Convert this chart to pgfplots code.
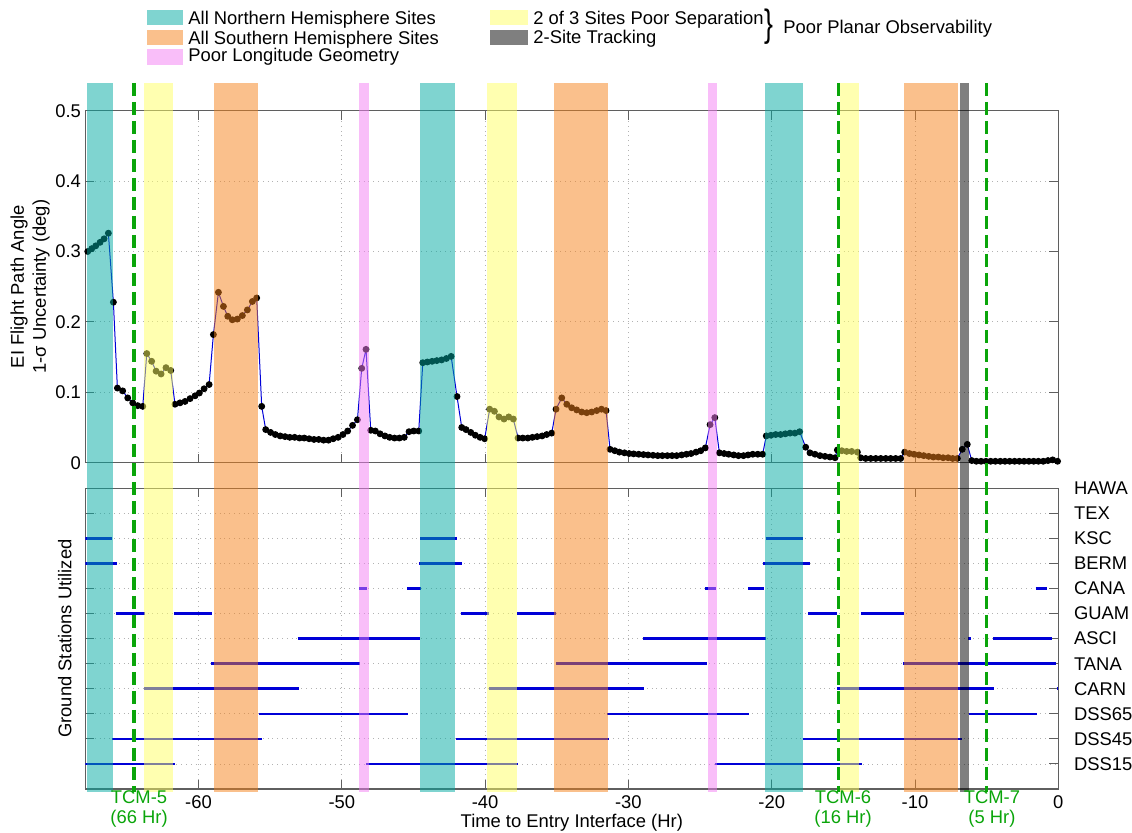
\documentclass[border=0pt]{standalone}
\usepackage{pgfplots}
\pgfplotsset{compat=1.18}
\usepackage{fontspec}
\setmainfont{Liberation Sans}
\definecolor{bcyan}{RGB}{0,169,161}
\definecolor{byellow}{RGB}{255,255,97}
\definecolor{borange}{RGB}{245,129,25}
\definecolor{bpink}{RGB}{243,125,243}
\definecolor{tcmgreen}{RGB}{10,165,10}
\definecolor{stblue}{RGB}{0,0,215}
\definecolor{axgray}{RGB}{95,95,95}
\begin{document}
\begin{tikzpicture}[x=1pt,y=1pt,font=\fontsize{9.2}{11}\selectfont]
\useasboundingbox (0,0) rectangle (566,416.5);
\pgfplotsset{
  every axis/.append style={font=\fontsize{9.2}{11}\selectfont},
  base/.style={anchor=south west, scale only axis, width=486.5pt,
    xmin=-67.9, xmax=0, tick align=inside, major tick length=4.5pt,
    grid=major, major grid style={dotted, black!30, line width=0.4pt},
    axis line style={axgray, line width=0.6pt}, every tick/.style={axgray, line width=0.5pt}},
  band/.style={draw=none, fill opacity=0.5},
  st/.style={stblue, line width=1.3pt, solid, mark=none},
}
% ---------------- upper axis ----------------
\begin{axis}[base, at={(42.65pt,185.15pt)}, height=176pt,
  ymin=0, ymax=0.5,
  xtick={-60,-50,-40,-30,-20,-10}, xticklabels={},
  ytick={0,0.1,0.2,0.3,0.4,0.5},
  yticklabel style={/pgf/number format/assume math mode=true, xshift=1.35pt},
  ylabel={EI Flight Path Angle\\1-σ Uncertainty (deg)},
  ylabel style={align=center, inner sep=0pt, at={(axis description cs:-0.0363,0.5)}, anchor=south},
  clip=false]
\addplot[stblue, line width=0.5pt, mark=*, mark size=1.45pt, mark options={black, fill=black}] coordinates {
(-67.73,0.300) (-67.45,0.304) (-67.17,0.308) (-66.87,0.313) (-66.59,0.318) (-66.29,0.326)
(-65.94,0.228) (-65.66,0.106) (-65.29,0.102) (-64.94,0.092) (-64.59,0.085) (-64.24,0.081) (-63.89,0.080)
(-63.61,0.155) (-63.27,0.144) (-62.96,0.130) (-62.61,0.126) (-62.27,0.135) (-61.94,0.131)
(-61.64,0.083) (-61.29,0.085) (-60.94,0.087) (-60.59,0.091) (-60.24,0.095) (-59.94,0.099) (-59.61,0.105) (-59.26,0.111)
(-58.96,0.182) (-58.61,0.242) (-58.26,0.222) (-57.96,0.208) (-57.64,0.203) (-57.29,0.204) (-56.94,0.209) (-56.59,0.217) (-56.24,0.229) (-55.94,0.234)
(-55.59,0.080) (-55.31,0.047) (-54.97,0.043) (-54.64,0.040) (-54.30,0.038) (-53.96,0.037) (-53.63,0.036) (-53.29,0.036)
(-52.95,0.035) (-52.62,0.035) (-52.28,0.034) (-51.94,0.033) (-51.61,0.033) (-51.27,0.032) (-50.93,0.032) (-50.60,0.034)
(-50.26,0.036) (-49.92,0.040) (-49.59,0.045) (-49.25,0.053) (-48.91,0.061)
(-48.61,0.134) (-48.31,0.161)
(-47.98,0.046) (-47.66,0.045) (-47.33,0.041) (-46.99,0.038) (-46.66,0.036) (-46.32,0.035) (-45.98,0.035) (-45.64,0.036)
(-45.31,0.044) (-44.98,0.045) (-44.63,0.045)
(-44.35,0.142) (-44.03,0.143) (-43.70,0.144) (-43.37,0.145) (-43.03,0.146) (-42.70,0.148) (-42.37,0.151)
(-41.96,0.094) (-41.63,0.050) (-41.33,0.047) (-41.00,0.043) (-40.68,0.039) (-40.35,0.036) (-40.03,0.034)
(-39.68,0.076) (-39.35,0.073) (-39.03,0.065) (-38.68,0.062) (-38.35,0.065) (-38.03,0.062)
(-37.70,0.035) (-37.37,0.035) (-37.02,0.035) (-36.70,0.036) (-36.37,0.037) (-36.02,0.038) (-35.70,0.040) (-35.35,0.042)
(-35.05,0.076) (-34.65,0.092) (-34.30,0.083) (-33.96,0.078) (-33.61,0.075) (-33.26,0.072) (-32.91,0.071) (-32.56,0.072)
(-32.21,0.074) (-31.88,0.076) (-31.56,0.074)
(-31.28,0.019) (-30.95,0.017) (-30.63,0.015) (-30.28,0.014) (-29.95,0.013) (-29.63,0.0125) (-29.28,0.012) (-28.95,0.0115)
(-28.63,0.011) (-28.28,0.0105) (-27.95,0.010) (-27.63,0.010) (-27.28,0.010) (-26.95,0.010) (-26.63,0.010) (-26.28,0.011)
(-25.95,0.012) (-25.63,0.013) (-25.28,0.015) (-24.95,0.017) (-24.63,0.021)
(-24.30,0.054) (-23.97,0.064)
(-23.65,0.014) (-23.32,0.013) (-23.00,0.012) (-22.65,0.011) (-22.32,0.010) (-21.97,0.010) (-21.65,0.011) (-21.32,0.012)
(-20.97,0.012) (-20.63,0.012)
(-20.38,0.038) (-20.05,0.039) (-19.72,0.040) (-19.38,0.040) (-19.05,0.041) (-18.72,0.042) (-18.38,0.042) (-18.05,0.044)
(-17.63,0.022) (-17.33,0.014) (-16.98,0.012) (-16.63,0.010) (-16.28,0.009) (-15.93,0.008) (-15.58,0.007)
(-15.42,0.018) (-15.11,0.017) (-14.77,0.016) (-14.42,0.016) (-14.02,0.015)
(-13.79,0.007) (-13.44,0.006) (-13.09,0.006) (-12.74,0.006) (-12.39,0.006) (-12.04,0.006) (-11.70,0.006) (-11.35,0.006) (-11.00,0.006)
(-10.72,0.015) (-10.39,0.013) (-10.07,0.012) (-9.72,0.011) (-9.39,0.010) (-9.04,0.009) (-8.72,0.008) (-8.37,0.008)
(-8.04,0.007) (-7.69,0.007) (-7.37,0.006) (-7.04,0.006)
(-6.70,0.019) (-6.35,0.026)
(-6.04,0.003) (-5.72,0.002) (-5.39,0.002) (-5.05,0.002) (-4.72,0.002) (-4.39,0.002) (-4.05,0.002) (-3.72,0.002)
(-3.39,0.002) (-3.05,0.002) (-2.72,0.002) (-2.39,0.002) (-2.05,0.002) (-1.72,0.002) (-1.39,0.002) (-1.05,0.002)
(-0.72,0.003) (-0.39,0.004) (-0.05,0.002)
};
\end{axis}
% ---------------- lower axis ----------------
\begin{axis}[base, at={(42.65pt,22pt)}, height=150.35pt,
  ymin=0, ymax=12,
  xtick={-60,-50,-40,-30,-20,-10,0},
  xticklabel style={/pgf/number format/assume math mode=true},
  ytick={1,2,3,4,5,6,7,8,9,10,11,12},
  yticklabels={DSS15,DSS45,DSS65,CARN,TANA,ASCI,GUAM,CANA,BERM,KSC,TEX,HAWA},
  ytick pos=both, yticklabel pos=right,
  yticklabel style={xshift=4.35pt},
  xlabel={Time to Entry Interface (Hr)},
  xlabel style={at={(axis description cs:0.5,0)}, anchor=base, yshift=-19.5pt},
  ylabel={Ground Stations Utilized},
  ylabel style={inner sep=0pt, at={(axis description cs:-0.01367,0.5)}, anchor=south},
  unbounded coords=jump]
% KSC
\addplot[st] coordinates {(-67.9,10) (-66.01,10) (-66,nan) (-44.54,10) (-41.98,10) (-41,nan) (-20.42,10) (-17.79,10)};
% BERM
\addplot[st] coordinates {(-67.9,9) (-65.71,9) (-65,nan) (-44.61,9) (-41.63,9) (-41,nan) (-20.58,9) (-17.33,9)};
% CANA
\addplot[st] coordinates {(-48.80,8) (-48.22,8) (-48,nan) (-45.42,8) (-44.49,8) (-44,nan) (-24.65,8) (-23.91,8) (-23,nan)
  (-21.63,8) (-20.51,8) (-20,nan) (-1.58,8) (-0.81,8)};
% GUAM
\addplot[st] coordinates {(-65.78,7) (-63.73,7) (-63,nan) (-61.71,7) (-59.06,7) (-59,nan) (-41.70,7) (-39.73,7) (-39,nan)
  (-37.75,7) (-35.07,7) (-35,nan) (-17.44,7) (-15.42,7) (-15,nan) (-13.77,7) (-10.74,7)};
% ASCI
\addplot[st] coordinates {(-53.08,6) (-44.54,6) (-44,nan) (-28.96,6) (-20.40,6) (-20,nan) (-6.28,6) (-6.11,6) (-6,nan) (-4.53,6) (-0.41,6)};
% TANA
\addplot[st] coordinates {(-59.10,5) (-48.73,5) (-48,nan) (-35.07,5) (-24.54,5) (-24,nan) (-10.81,5) (-0.16,5)};
% CARN
\addplot[st] coordinates {(-63.80,4) (-52.98,4) (-52,nan) (-39.73,4) (-28.91,4) (-28,nan) (-15.42,4) (-4.48,4) (-4,nan) (-0.12,4) (0,4)};
% DSS65
\addplot[st] coordinates {(-55.80,3) (-45.36,3) (-45,nan) (-31.51,3) (-21.56,3) (-21,nan) (-6.21,3) (-1.51,3)};
% DSS45
\addplot[st] coordinates {(-66.06,2) (-55.54,2) (-55,nan) (-42.03,2) (-31.35,2) (-31,nan) (-17.84,2) (-6.74,2)};
% DSS15
\addplot[st] coordinates {(-67.9,1) (-61.64,1) (-61,nan) (-48.31,1) (-37.68,1) (-37,nan) (-23.96,1) (-13.67,1)};
\end{axis}
% ---------------- band overlay ----------------
\begin{axis}[at={(42.65pt,20.5pt)}, anchor=south west, scale only axis, width=486.5pt, height=354.5pt,
  xmin=-67.9, xmax=0, ymin=0, ymax=1, hide axis, clip=false]
\addplot[band, fill=bcyan] coordinates {(-67.75,0) (-66.0,0) (-66.0,1) (-67.75,1)} -- cycle;
\addplot[band, fill=byellow] coordinates {(-63.78,0) (-61.76,0) (-61.76,1) (-63.78,1)} -- cycle;
\addplot[band, fill=borange] coordinates {(-58.90,0) (-55.83,0) (-55.83,1) (-58.90,1)} -- cycle;
\addplot[band, fill=bpink] coordinates {(-48.78,0) (-48.12,0) (-48.12,1) (-48.78,1)} -- cycle;
\addplot[band, fill=bcyan] coordinates {(-44.54,0) (-42.10,0) (-42.10,1) (-44.54,1)} -- cycle;
\addplot[band, fill=byellow] coordinates {(-39.89,0) (-37.75,0) (-37.75,1) (-39.89,1)} -- cycle;
\addplot[band, fill=borange] coordinates {(-35.17,0) (-31.40,0) (-31.40,1) (-35.17,1)} -- cycle;
\addplot[band, fill=bpink] coordinates {(-24.42,0) (-23.84,0) (-23.84,1) (-24.42,1)} -- cycle;
\addplot[band, fill=bcyan] coordinates {(-20.45,0) (-17.82,0) (-17.82,1) (-20.45,1)} -- cycle;
\addplot[band, fill=byellow] coordinates {(-15.23,0) (-13.89,0) (-13.89,1) (-15.23,1)} -- cycle;
\addplot[band, fill=borange] coordinates {(-10.77,0) (-7.02,0) (-7.02,1) (-10.77,1)} -- cycle;
\addplot[band, fill=black] coordinates {(-6.86,0) (-6.21,0) (-6.21,1) (-6.86,1)} -- cycle;
\addplot[tcmgreen, line width=1.6pt, dash pattern=on 6.5pt off 3pt] coordinates {(-64.50,1) (-64.50,0)};
\addplot[tcmgreen, line width=1.6pt, dash pattern=on 6.5pt off 3pt] coordinates {(-15.35,1) (-15.35,0)};
\addplot[tcmgreen, line width=1.6pt, dash pattern=on 6.5pt off 3pt] coordinates {(-5.00,1) (-5.00,0)};
\node[tcmgreen, align=center, font=\fontsize{9.2}{10}\selectfont] at (axis cs:-64.15,-0.024) {TCM-5\\(66 Hr)};
\node[tcmgreen, align=center, font=\fontsize{9.2}{10}\selectfont] at (axis cs:-15.02,-0.024) {TCM-6\\(16 Hr)};
\node[tcmgreen, align=center, font=\fontsize{9.2}{10}\selectfont] at (axis cs:-4.63,-0.024) {TCM-7\\(5 Hr)};
\end{axis}
% ---------------- legend ----------------
\fill[bcyan, fill opacity=0.5] (73.35,404) rectangle (91.65,411.5);
\fill[borange, fill opacity=0.5] (73.35,394) rectangle (91.65,401.5);
\fill[bpink, fill opacity=0.5] (73.35,384) rectangle (91.65,392);
\fill[byellow, fill opacity=0.5] (245,404) rectangle (264,411.5);
\fill[black, fill opacity=0.5] (245,394) rectangle (264,401.5);
\node[anchor=base west, inner sep=0pt] at (94,404) {All Northern Hemisphere Sites};
\node[anchor=base west, inner sep=0pt] at (94,394) {All Southern Hemisphere Sites};
\node[anchor=base west, inner sep=0pt] at (94,385.5) {Poor Longitude Geometry};
\node[anchor=base west, inner sep=0pt] at (266.5,404) {2 of 3 Sites Poor Separation};
\node[anchor=base west, inner sep=0pt] at (266.5,394.5) {2-Site Tracking};
\node[inner sep=0pt, xscale=0.7] at (384.5,403.25) {\fontsize{19}{19}\selectfont\}};
\node[anchor=base west, inner sep=0pt] at (391.5,399.65) {Poor Planar Observability};
\end{tikzpicture}
\end{document}
